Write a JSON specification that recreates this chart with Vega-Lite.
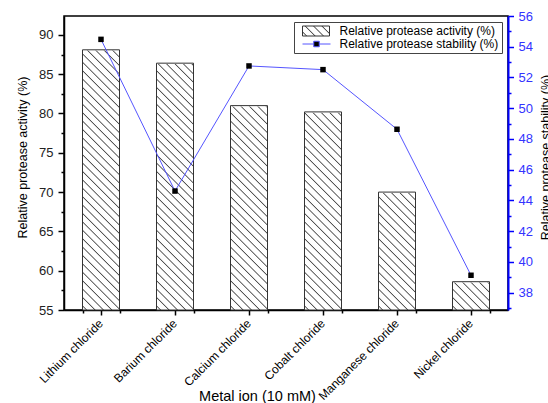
{
  "$schema": "https://vega.github.io/schema/vega-lite/v6.json",
  "width": 444,
  "height": 294,
  "autosize": "none",
  "padding": {"left": 64, "top": 16, "right": 40, "bottom": 93},
  "background": "white",
  "config": {
    "font": "Liberation Sans",
    "axis": {"grid": false, "labelFont": "Liberation Sans", "titleFont": "Liberation Sans", "titleFontWeight": "normal", "titleColor": "black"},
    "view": {"stroke": "black", "strokeWidth": 1.5},
    "legend": {"labelFont": "Liberation Sans"}
  },
  "data": {
    "values": [
      {"metal": "Lithium chloride", "act": 88.1, "stab": 54.48},
      {"metal": "Barium chloride", "act": 86.4, "stab": 44.61},
      {"metal": "Calcium chloride", "act": 81.0, "stab": 52.75},
      {"metal": "Cobalt chloride", "act": 80.2, "stab": 52.51},
      {"metal": "Manganese chloride", "act": 70.0, "stab": 48.63},
      {"metal": "Nickel chloride", "act": 58.6, "stab": 39.13}
    ]
  },
  "resolve": {"scale": {"y": "independent"}, "axis": {"x": "independent"}},
  "layer": [
    {
      "resolve": {"axis": {"y": "independent"}},
      "layer": [
        {
          "mark": {
            "type": "bar",
            "fill": {
              "gradient": "linear", "x1": 0, "y1": 1, "x2": 0.1446, "y2": -0.1368,
              "stops": [
                {"offset": 0.009, "color": "#fff"}, {"offset": 0.0125, "color": "#444"}, {"offset": 0.016, "color": "#fff"},
                {"offset": 0.034, "color": "#fff"}, {"offset": 0.0375, "color": "#444"}, {"offset": 0.041, "color": "#fff"},
                {"offset": 0.059, "color": "#fff"}, {"offset": 0.0625, "color": "#444"}, {"offset": 0.066, "color": "#fff"},
                {"offset": 0.084, "color": "#fff"}, {"offset": 0.0875, "color": "#444"}, {"offset": 0.091, "color": "#fff"},
                {"offset": 0.109, "color": "#fff"}, {"offset": 0.1125, "color": "#444"}, {"offset": 0.116, "color": "#fff"},
                {"offset": 0.134, "color": "#fff"}, {"offset": 0.1375, "color": "#444"}, {"offset": 0.141, "color": "#fff"},
                {"offset": 0.159, "color": "#fff"}, {"offset": 0.1625, "color": "#444"}, {"offset": 0.166, "color": "#fff"},
                {"offset": 0.184, "color": "#fff"}, {"offset": 0.1875, "color": "#444"}, {"offset": 0.191, "color": "#fff"},
                {"offset": 0.209, "color": "#fff"}, {"offset": 0.2125, "color": "#444"}, {"offset": 0.216, "color": "#fff"},
                {"offset": 0.234, "color": "#fff"}, {"offset": 0.2375, "color": "#444"}, {"offset": 0.241, "color": "#fff"},
                {"offset": 0.259, "color": "#fff"}, {"offset": 0.2625, "color": "#444"}, {"offset": 0.266, "color": "#fff"},
                {"offset": 0.284, "color": "#fff"}, {"offset": 0.2875, "color": "#444"}, {"offset": 0.291, "color": "#fff"},
                {"offset": 0.309, "color": "#fff"}, {"offset": 0.3125, "color": "#444"}, {"offset": 0.316, "color": "#fff"},
                {"offset": 0.334, "color": "#fff"}, {"offset": 0.3375, "color": "#444"}, {"offset": 0.341, "color": "#fff"},
                {"offset": 0.359, "color": "#fff"}, {"offset": 0.3625, "color": "#444"}, {"offset": 0.366, "color": "#fff"},
                {"offset": 0.384, "color": "#fff"}, {"offset": 0.3875, "color": "#444"}, {"offset": 0.391, "color": "#fff"},
                {"offset": 0.409, "color": "#fff"}, {"offset": 0.4125, "color": "#444"}, {"offset": 0.416, "color": "#fff"},
                {"offset": 0.434, "color": "#fff"}, {"offset": 0.4375, "color": "#444"}, {"offset": 0.441, "color": "#fff"},
                {"offset": 0.459, "color": "#fff"}, {"offset": 0.4625, "color": "#444"}, {"offset": 0.466, "color": "#fff"},
                {"offset": 0.484, "color": "#fff"}, {"offset": 0.4875, "color": "#444"}, {"offset": 0.491, "color": "#fff"},
                {"offset": 0.509, "color": "#fff"}, {"offset": 0.5125, "color": "#444"}, {"offset": 0.516, "color": "#fff"},
                {"offset": 0.534, "color": "#fff"}, {"offset": 0.5375, "color": "#444"}, {"offset": 0.541, "color": "#fff"},
                {"offset": 0.559, "color": "#fff"}, {"offset": 0.5625, "color": "#444"}, {"offset": 0.566, "color": "#fff"},
                {"offset": 0.584, "color": "#fff"}, {"offset": 0.5875, "color": "#444"}, {"offset": 0.591, "color": "#fff"},
                {"offset": 0.609, "color": "#fff"}, {"offset": 0.6125, "color": "#444"}, {"offset": 0.616, "color": "#fff"},
                {"offset": 0.634, "color": "#fff"}, {"offset": 0.6375, "color": "#444"}, {"offset": 0.641, "color": "#fff"},
                {"offset": 0.659, "color": "#fff"}, {"offset": 0.6625, "color": "#444"}, {"offset": 0.666, "color": "#fff"},
                {"offset": 0.684, "color": "#fff"}, {"offset": 0.6875, "color": "#444"}, {"offset": 0.691, "color": "#fff"},
                {"offset": 0.709, "color": "#fff"}, {"offset": 0.7125, "color": "#444"}, {"offset": 0.716, "color": "#fff"},
                {"offset": 0.734, "color": "#fff"}, {"offset": 0.7375, "color": "#444"}, {"offset": 0.741, "color": "#fff"},
                {"offset": 0.759, "color": "#fff"}, {"offset": 0.7625, "color": "#444"}, {"offset": 0.766, "color": "#fff"},
                {"offset": 0.784, "color": "#fff"}, {"offset": 0.7875, "color": "#444"}, {"offset": 0.791, "color": "#fff"},
                {"offset": 0.809, "color": "#fff"}, {"offset": 0.8125, "color": "#444"}, {"offset": 0.816, "color": "#fff"},
                {"offset": 0.834, "color": "#fff"}, {"offset": 0.8375, "color": "#444"}, {"offset": 0.841, "color": "#fff"},
                {"offset": 0.859, "color": "#fff"}, {"offset": 0.8625, "color": "#444"}, {"offset": 0.866, "color": "#fff"},
                {"offset": 0.884, "color": "#fff"}, {"offset": 0.8875, "color": "#444"}, {"offset": 0.891, "color": "#fff"},
                {"offset": 0.909, "color": "#fff"}, {"offset": 0.9125, "color": "#444"}, {"offset": 0.916, "color": "#fff"},
                {"offset": 0.934, "color": "#fff"}, {"offset": 0.9375, "color": "#444"}, {"offset": 0.941, "color": "#fff"},
                {"offset": 0.959, "color": "#fff"}, {"offset": 0.9625, "color": "#444"}, {"offset": 0.966, "color": "#fff"}
              ]
            }
          },
          "encoding": {
            "x": {"field": "metal", "type": "nominal", "sort": null, "scale": {"paddingInner": 0.5, "paddingOuter": 0.25}},
            "y": {
              "datum": 55, "type": "quantitative",
              "scale": {"domain": [55, 92.4], "nice": false, "zero": false},
              "axis": {
                "orient": "left", "values": [57.5, 62.5, 67.5, 72.5, 77.5, 82.5, 87.5],
                "labels": false, "domain": false, "title": null,
                "tickSize": 3, "tickWidth": 1.5, "tickColor": "black"
              }
            },
            "y2": {"datum": 92}
          }
        },
        {
          "mark": {"type": "bar", "fill": "white", "stroke": "white", "strokeWidth": 1.6},
          "encoding": {
            "x": {"field": "metal", "type": "nominal", "sort": null},
            "y": {"field": "act", "type": "quantitative", "axis": null},
            "y2": {"datum": 92}
          }
        },
        {
          "mark": {"type": "bar", "filled": false, "stroke": "#333", "strokeWidth": 1},
          "encoding": {
            "x": {
              "field": "metal", "type": "nominal", "sort": null,
              "axis": {
                "title": "Metal ion (10 mM)", "titleFontSize": 14.5, "titleX": 193, "titleY": 90,
                "titleAlign": "center", "titleBaseline": "alphabetic",
                "labelAngle": -45, "labelFontSize": 12, "labelColor": "black", "labelPadding": 6,
                "tickSize": 5, "tickWidth": 1.5, "tickColor": "black",
                "domainColor": "black", "domainWidth": 1.5
              }
            },
            "y": {
              "field": "act", "type": "quantitative",
              "axis": {
                "orient": "left",
                "title": "Relative protease activity (%)", "titleFontSize": 12.5,
                "titleAngle": 270, "titleX": -38, "titleY": 141, "titleAlign": "center", "titleBaseline": "alphabetic",
                "values": [55, 60, 65, 70, 75, 80, 85, 90],
                "tickSize": 6, "tickWidth": 1.5, "tickColor": "black", "labelFontSize": 13, "labelColor": "#222", "labelPadding": 5,
                "domainColor": "black", "domainWidth": 1.5
              }
            },
            "y2": {"datum": 55}
          }
        }
      ]
    },
    {
      "resolve": {"axis": {"y": "independent"}},
      "layer": [
        {
          "mark": {"type": "line", "color": "#5555ff", "strokeWidth": 1},
          "encoding": {
            "x": {
              "field": "metal", "type": "nominal", "sort": null,
              "axis": {"orient": "bottom", "tickBand": "extent", "labels": false, "domain": false, "title": null, "tickSize": 3, "tickWidth": 1.5, "tickColor": "black"}
            },
            "y": {
              "field": "stab", "type": "quantitative",
              "scale": {"domain": [36.87, 56], "nice": false, "zero": false},
              "axis": {
                "orient": "right", "title": "Relative protease stability (%)", "titleFontSize": 12.5,
                "titleAngle": 270, "titleX": 41, "titleY": 141, "titleAlign": "center", "titleBaseline": "alphabetic",
                "values": [38, 40, 42, 44, 46, 48, 50, 52, 54, 56],
                "tickSize": 5.5, "tickWidth": 1.5, "tickColor": "#0000ff", "labelFontSize": 13, "labelColor": "#3333ff", "labelPadding": 4.5,
                "domainColor": "#0000ff", "domainWidth": 2
              }
            }
          }
        },
        {
          "mark": {"type": "square", "size": 30, "filled": true, "fill": "black", "opacity": 1},
          "encoding": {
            "x": {"field": "metal", "type": "nominal", "sort": null},
            "y": {
              "field": "stab", "type": "quantitative",
              "axis": {
                "orient": "right", "values": [37, 39, 41, 43, 45, 47, 49, 51, 53, 55],
                "labels": false, "domain": false, "title": null,
                "tickSize": 3, "tickWidth": 1.5, "tickColor": "#0000ff"
              }
            }
          }
        }
      ]
    },
    {
      "transform": [{"filter": "false"}],
      "mark": {"type": "point", "filled": true, "size": 100},
      "encoding": {
        "color": {
          "datum": "Relative protease activity (%)", "type": "nominal",
          "scale": {
            "domain": ["Relative protease activity (%)", "Relative protease stability (%)"],
            "range": [
              {"expr": "{gradient: 'linear', x1: 0, y1: 1, x2: 1.368, y2: 0.4934, stops: [{offset: 0.072, color: '#fff'}, {offset: 0.1, color: '#444'}, {offset: 0.128, color: '#fff'}, {offset: 0.272, color: '#fff'}, {offset: 0.3, color: '#444'}, {offset: 0.328, color: '#fff'}, {offset: 0.472, color: '#fff'}, {offset: 0.5, color: '#444'}, {offset: 0.528, color: '#fff'}, {offset: 0.672, color: '#fff'}, {offset: 0.7, color: '#444'}, {offset: 0.728, color: '#fff'}, {offset: 0.872, color: '#fff'}, {offset: 0.9, color: '#444'}, {offset: 0.928, color: '#fff'}]}"},
              "black"
            ]
          },
          "legend": {
            "title": null, "orient": "top-right", "offset": 6, "padding": 3,
            "strokeColor": "#444", "fillColor": "white",
            "labelFontSize": 12, "labelColor": "black", "labelOffset": 26, "rowPadding": 0,
            "symbolSize": 100, "symbolOffset": 4.5, "symbolStrokeWidth": 1, "symbolOpacity": 1
          }
        },
        "shape": {
          "datum": "Relative protease activity (%)", "type": "nominal",
          "scale": {
            "domain": ["Relative protease activity (%)", "Relative protease stability (%)"],
            "range": ["M-1,-1H4.4V1H-1Z", "M-1,0H1.25M2.35,0H4.6M1.25,-0.55H2.35V0.55H1.25Z"]
          }
        },
        "stroke": {
          "datum": "Relative protease activity (%)", "type": "nominal",
          "scale": {
            "domain": ["Relative protease activity (%)", "Relative protease stability (%)"],
            "range": ["#333333", "#5555ff"]
          }
        }
      }
    }
  ]
}
